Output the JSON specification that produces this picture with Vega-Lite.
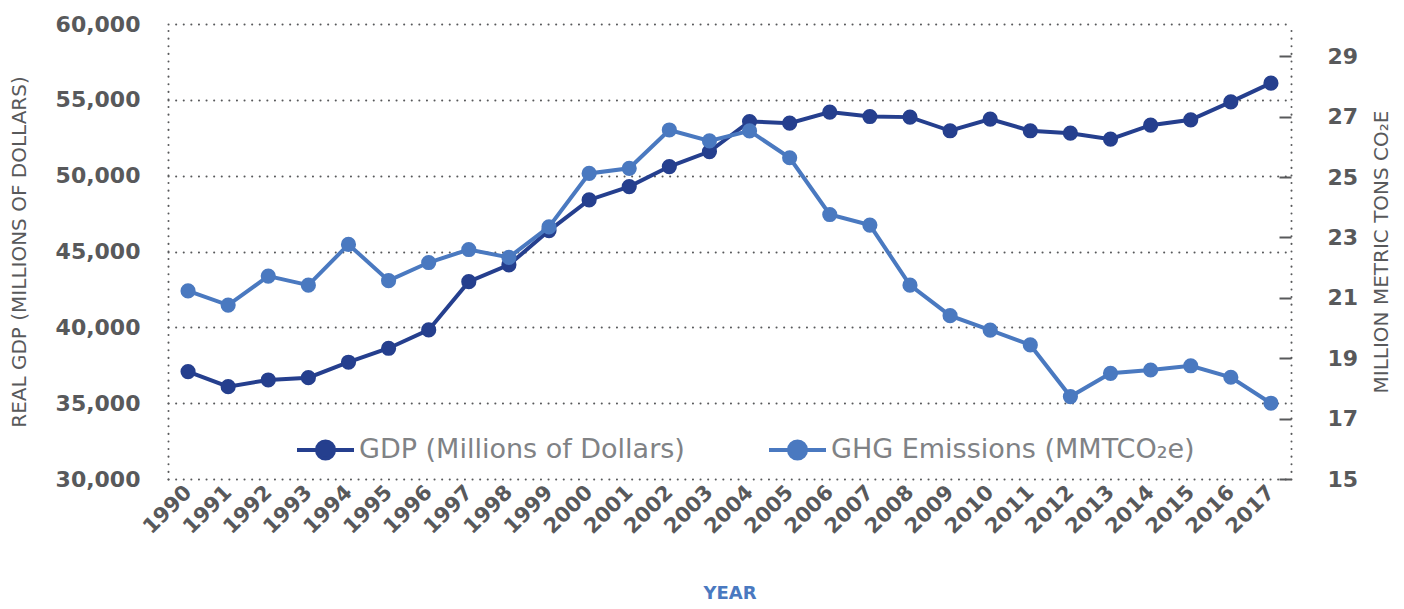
{
  "$schema": "https://vega.github.io/schema/vega-lite/v6.json",
  "width": 1123,
  "height": 455,
  "autosize": {"type": "none"},
  "padding": {"left": 168, "top": 24, "right": 113, "bottom": 130},
  "background": "white",
  "config": {"view": {"stroke": null}, "font": "DejaVu Sans"},
  "data": {"values": [
    {"year": "1990", "gdp": 37080, "ghg": 21.23},
    {"year": "1991", "gdp": 36090, "ghg": 20.76},
    {"year": "1992", "gdp": 36530, "ghg": 21.72},
    {"year": "1993", "gdp": 36680, "ghg": 21.42},
    {"year": "1994", "gdp": 37700, "ghg": 22.77},
    {"year": "1995", "gdp": 38620, "ghg": 21.57},
    {"year": "1996", "gdp": 39830, "ghg": 22.17},
    {"year": "1997", "gdp": 43010, "ghg": 22.60},
    {"year": "1998", "gdp": 44120, "ghg": 22.34},
    {"year": "1999", "gdp": 46380, "ghg": 23.35},
    {"year": "2000", "gdp": 48400, "ghg": 25.12},
    {"year": "2001", "gdp": 49280, "ghg": 25.29},
    {"year": "2002", "gdp": 50600, "ghg": 26.56},
    {"year": "2003", "gdp": 51590, "ghg": 26.20},
    {"year": "2004", "gdp": 53570, "ghg": 26.53},
    {"year": "2005", "gdp": 53460, "ghg": 25.64},
    {"year": "2006", "gdp": 54190, "ghg": 23.76},
    {"year": "2007", "gdp": 53900, "ghg": 23.41},
    {"year": "2008", "gdp": 53860, "ghg": 21.42},
    {"year": "2009", "gdp": 52960, "ghg": 20.41},
    {"year": "2010", "gdp": 53730, "ghg": 19.93},
    {"year": "2011", "gdp": 52960, "ghg": 19.44},
    {"year": "2012", "gdp": 52800, "ghg": 17.73},
    {"year": "2013", "gdp": 52410, "ghg": 18.50},
    {"year": "2014", "gdp": 53330, "ghg": 18.61},
    {"year": "2015", "gdp": 53680, "ghg": 18.75},
    {"year": "2016", "gdp": 54870, "ghg": 18.37},
    {"year": "2017", "gdp": 56100, "ghg": 17.51}
  ]},
  "encoding": {
    "x": {
      "field": "year", "type": "ordinal",
      "scale": {"type": "point", "padding": 0.5},
      "axis": {
        "title": "YEAR", "titleColor": "#4a79c0", "titleFontSize": 18, "titleFontWeight": "bold", "titlePadding": 47,
        "labelAngle": -45, "labelAlign": "right", "labelBaseline": "middle", "labelFontSize": 21, "labelFontWeight": "bold",
        "labelColor": "#58595b", "labelPadding": 10,
        "domain": false, "ticks": false, "grid": false
      }
    }
  },
  "layer": [
    {
      "mark": {"type": "line", "strokeWidth": 4, "point": {"filled": true, "size": 230, "opacity": 1}},
      "encoding": {
        "y": {
          "field": "gdp", "type": "quantitative",
          "scale": {"domain": [30000, 60000], "nice": false, "zero": false},
          "axis": {
            "title": "REAL GDP (MILLIONS OF DOLLARS)", "titleColor": "#58595b", "titleFontSize": 20, "titleFontWeight": "normal", "titlePadding": 26,
            "values": [30000, 35000, 40000, 45000, 50000, 55000, 60000], "format": ",.0f",
            "labelFontSize": 22, "labelFontWeight": "bold", "labelColor": "#58595b", "labelPadding": 28,
            "ticks": false,
            "domain": true, "domainColor": "#58595b", "domainDash": [0.1, 7.5], "domainCap": "round", "domainWidth": 2,
            "grid": true, "gridColor": "#58595b", "gridDash": [0.1, 7.5], "gridCap": "round", "gridWidth": 2, "gridOpacity": 1
          }
        },
        "color": {
          "datum": "GDP (Millions of Dollars)", "type": "nominal",
          "scale": {"domain": ["GDP (Millions of Dollars)", "GHG Emissions (MMTCO₂e)"], "range": ["#253f8e", "#4a79c0"]},
          "legend": {
            "orient": "none", "legendX": 127, "legendY": 395, "direction": "horizontal", "title": null,
            "symbolType": "M-1,0H1M-0.3,0A0.3,0.3,0,1,1,0.3,0A0.3,0.3,0,1,1,-0.3,0Z",
            "symbolSize": 3249, "symbolStrokeWidth": 4, "symbolOpacity": 1,
            "labelFontSize": 27, "labelColor": "#808285", "labelOffset": 3, "columnPadding": 76, "labelLimit": 600,
            "encode": {"symbols": {"update": {"fill": {"field": "value", "scale": "color"}, "stroke": {"field": "value", "scale": "color"}}}}
          }
        }
      }
    },
    {
      "mark": {"type": "line", "strokeWidth": 4, "point": {"filled": true, "size": 230, "opacity": 1}},
      "encoding": {
        "y": {
          "field": "ghg", "type": "quantitative",
          "scale": {"domain": [15, 30.07], "nice": false, "zero": false},
          "axis": {
            "orient": "right",
            "title": "MILLION METRIC TONS CO₂E", "titleColor": "#58595b", "titleFontSize": 20, "titleFontWeight": "normal", "titleAngle": -90, "titlePadding": 34,
            "values": [15, 17, 19, 21, 23, 25, 27, 29],
            "labelFontSize": 22, "labelFontWeight": "bold", "labelColor": "#58595b", "labelPadding": 48,
            "ticks": true, "tickSize": -12, "tickColor": "#58595b", "tickWidth": 2,
            "domain": true, "domainColor": "#58595b", "domainDash": [0.1, 7.5], "domainCap": "round", "domainWidth": 2,
            "grid": false
          }
        },
        "color": {"datum": "GHG Emissions (MMTCO₂e)", "type": "nominal"}
      }
    }
  ],
  "resolve": {"scale": {"y": "independent"}}
}
